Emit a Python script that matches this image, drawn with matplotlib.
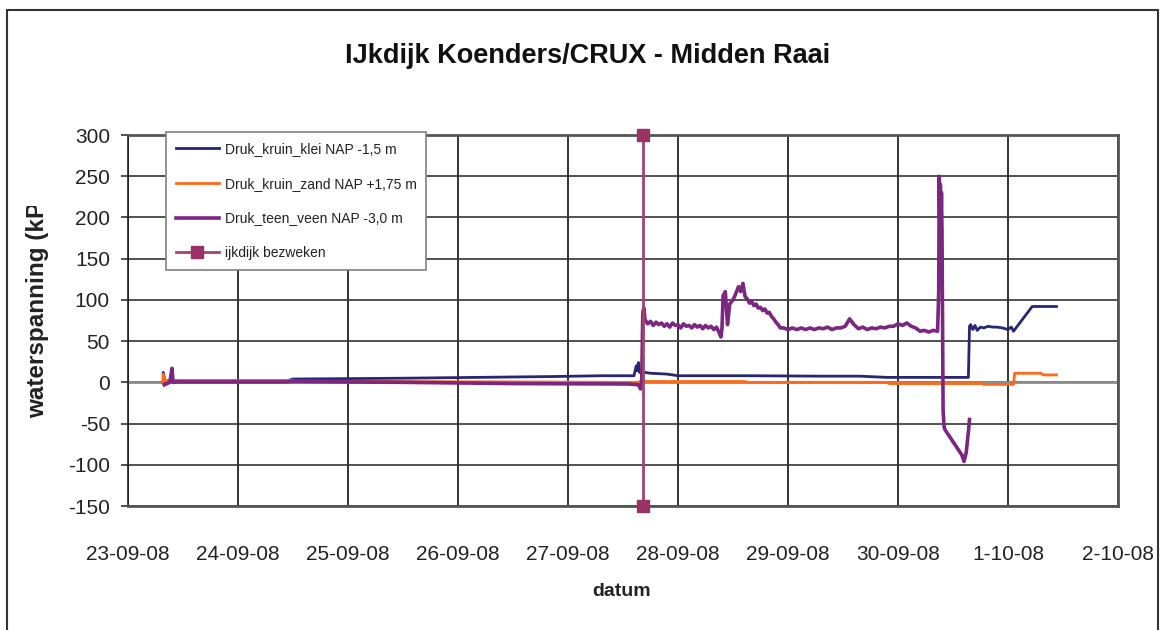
import datetime as dt
import numpy as np
import matplotlib
matplotlib.use('Agg')
import matplotlib.pyplot as plt
import matplotlib.dates as mdates
from matplotlib.patches import Rectangle
from matplotlib.transforms import Bbox

plt.rcParams['font.family'] = ['Liberation Sans', 'DejaVu Sans']
plt.rcParams['axes.unicode_minus'] = False

start = dt.datetime(2008, 9, 23)

# tijd in dagen vanaf 23-09-08 00:00
klei_t = [0.32, 0.32, 0.34, 0.36, 0.55, 1.45, 1.50, 2.50, 3.50, 3.85, 4.30, 4.60,
          4.62, 4.63, 4.64, 4.65, 4.70, 4.75, 4.90, 5.00, 5.30, 5.65, 6.30, 6.65,
          6.90, 7.30, 7.64, 7.65, 7.66, 7.68, 7.70, 7.72, 7.75, 7.78, 7.82, 7.86,
          7.90, 7.95, 8.00, 8.03, 8.05, 8.22, 8.44]
klei_v = [0, 12, 0, 2, 2, 2, 4, 5, 6.5, 7, 8, 8,
          20, 14, 24, 12, 12, 11, 10, 8, 8, 8, 7.5, 7.5,
          6, 6, 6, 68, 70, 64, 69, 63, 67, 66, 68, 67,
          67, 66, 64, 67, 62, 92, 92]

zand_t = [0.32, 0.32, 0.34, 0.55, 1.50, 1.52, 2.50, 3.50, 4.50, 4.62, 4.64, 4.66,
          4.70, 5.00, 5.60, 5.65, 6.20, 6.90, 6.92, 7.40, 7.77, 7.78, 8.05, 8.06,
          8.30, 8.32, 8.44]
zand_v = [0, 10, 2, 2, 2, 1.5, 1, 0.5, 0, 0, -2, 2,
          1, 1, 1, 0, 0, 0, -1.5, -1.5, -1.5, -2.5, -2.5, 11,
          11, 9, 9]

veen_t = [0.33, 0.38, 0.40, 0.41, 0.45, 1.45, 1.50, 2.50, 3.50, 4.55, 4.64, 4.66,
          4.67, 4.68, 4.69,
          4.700, 4.725, 4.750, 4.775, 4.800, 4.825, 4.850, 4.875, 4.900, 4.925,
          4.950, 4.975, 5.000, 5.025, 5.050, 5.075, 5.100, 5.125, 5.150, 5.175,
          5.200, 5.225, 5.250, 5.275, 5.300, 5.325, 5.350, 5.375, 5.390, 5.400,
          5.41, 5.43, 5.45, 5.47, 5.50, 5.52, 5.55, 5.57, 5.59, 5.61, 5.63, 5.65,
          5.67, 5.69, 5.71, 5.73, 5.75, 5.77, 5.79, 5.81, 5.83, 5.85, 5.87, 5.89,
          5.91, 5.93,
          5.96, 6.00, 6.04, 6.08, 6.12, 6.16, 6.20, 6.24, 6.28, 6.32, 6.36, 6.40,
          6.44, 6.48, 6.52, 6.56, 6.60, 6.64, 6.68, 6.72, 6.76, 6.80, 6.84, 6.88,
          6.92, 6.96, 7.00, 7.04, 7.08, 7.12, 7.16, 7.20, 7.24, 7.28, 7.32, 7.36,
          7.37, 7.375, 7.38, 7.385, 7.39, 7.395, 7.40, 7.41, 7.42, 7.43, 7.45,
          7.48, 7.52, 7.55, 7.58, 7.60, 7.62, 7.64, 7.65]
veen_v = [-3, 0, 17, 0, 0.5, 0.5, 1, 0, -1.5, -2, -3, -8,
          0, 85, 90,
          76, 71, 74, 69, 73, 70, 72, 68, 71, 67,
          72, 69, 70, 66, 71, 68, 69, 66, 70, 67,
          69, 65, 69, 66, 68, 64, 67, 60, 55, 66,
          105, 110, 70, 95, 100, 106, 116, 110, 120, 104, 101, 96,
          98, 93, 95, 90, 91, 87, 89, 84, 85, 80, 77, 73,
          70, 66,
          66, 64, 66, 64, 66, 64, 66, 64, 66, 65, 67, 64,
          66, 66, 68, 77, 70, 65, 67, 64, 66, 65, 67, 66,
          68, 68, 71, 69, 72, 68, 66, 62, 63, 61, 63, 62,
          110, 250, 190, 240, 185, 230, 183, -35, -55, -58, -62,
          -68, -76, -82, -88, -96, -85, -60, -45]

event_t = [4.682, 4.682]
event_v = [-150, 300]

series = [
    ('Druk_kruin_klei NAP -1,5 m', klei_t, klei_v, '#262673', 2.0),
    ('Druk_kruin_zand NAP +1,75 m', zand_t, zand_v, '#FF6A1A', 2.0),
    ('Druk_teen_veen NAP -3,0 m', veen_t, veen_v, '#7B2680', 2.6),
]

base = mdates.date2num(start)

fig = plt.figure(figsize=(11.6, 6.3), dpi=100)
ax = fig.add_axes([128 / 1160, 1 - 506 / 630, 990 / 1160, 371 / 630])

ax.axhline(0, color='#8c8c8c', lw=2, zorder=1)
for label, t, v, c, lw in series:
    ax.plot(base + np.array(t), v, color=c, lw=lw, label=label, zorder=3)
ax.plot(base + np.array(event_t), event_v, color='#A0446F', lw=2,
        marker='s', markersize=8, markerfacecolor='#993366',
        markeredgecolor='#993366', label='ijkdijk bezweken', zorder=4, clip_on=False)

ax.set_xlim(base, base + 9)
ax.set_ylim(-150, 300)
ax.set_yticks(np.arange(-150, 301, 50))
ax.xaxis.set_major_locator(mdates.DayLocator())
ax.xaxis.set_major_formatter(plt.FuncFormatter(
    lambda x, pos: '{}-{}'.format(mdates.num2date(x).day, mdates.num2date(x).strftime('%m-%y'))))

ax.grid(axis='y', color='#333333', lw=1.2)
ax.grid(axis='x', color='#111111', lw=1.2)
ax.set_axisbelow(True)
for s in ax.spines.values():
    s.set_color('#555555')
    s.set_linewidth(2)
ax.spines['left'].set_color('#222222')
ax.spines['left'].set_linewidth(1.2)

ax.tick_params(axis='y', length=5, width=1.2, color='#333333', pad=8, labelsize=15, labelcolor='#222222')
ax.tick_params(axis='x', length=0, pad=28, labelsize=15, labelcolor='#222222')

fig.text(588 / 1160, 1 - 56 / 630, 'IJkdijk Koenders/CRUX - Midden Raai',
         ha='center', va='center', fontsize=19.5, fontweight='bold', color='#111111')
fig.text(622 / 1160, 1 - 591 / 630, 'datum', ha='center', va='center',
         fontsize=14, fontweight='bold', color='#222222')
# label is in het origineel afgekapt boven de legenda
yl = fig.text(38 / 1160, 1 - 418 / 630, 'waterspanning (kPa)', rotation=90,
              ha='center', va='bottom', fontsize=17.5, fontweight='bold', color='#222222')
yl.set_clip_box(Bbox.from_extents(0, 0, 1160, 630 - 206))
yl.set_clip_on(True)

leg = ax.legend(loc='upper left', bbox_to_anchor=(166 / 1160, 1 - 132 / 630),
                bbox_transform=fig.transFigure, fontsize=10, frameon=True,
                fancybox=False, edgecolor='#808080', framealpha=1,
                handlelength=3.1, handletextpad=0.43, labelspacing=1.5,
                borderpad=0.7, borderaxespad=0)
leg.get_frame().set_linewidth(1.2)
for txt in leg.get_texts():
    txt.set_color('#222222')

fig.patches.append(Rectangle((7 / 1160, -0.01), 1151 / 1160, 1 - 10 / 630 + 0.01,
                             transform=fig.transFigure, fill=False,
                             edgecolor='#333333', lw=1.5))

fig.savefig('out.png', dpi=100)
